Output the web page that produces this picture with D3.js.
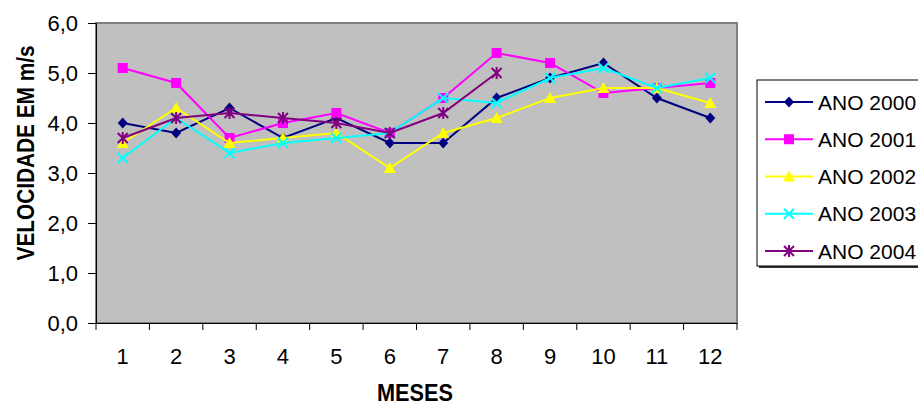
<!DOCTYPE html>
<html><head><meta charset="utf-8">
<script src="https://cdn.jsdelivr.net/npm/d3@7"></script>
<style>body{margin:0;background:#fff}svg{display:block}text{font-family:Arial,"Liberation Sans",sans-serif}</style>
</head><body>
<svg id="c" width="918" height="407"></svg>
<script>
const months = ["1","2","3","4","5","6","7","8","9","10","11","12"];
const yTicks = [0,1,2,3,4,5,6];
const seriesNames = ["ANO 2000","ANO 2001","ANO 2002","ANO 2003","ANO 2004"];
const ano2000 = [4.0,3.8,4.3,3.7,4.1,3.6,3.6,4.5,4.9,5.2,4.5,4.1];
const ano2001 = [5.1,4.8,3.7,4.0,4.2,3.8,4.5,5.4,5.2,4.6,4.7,4.8];
const ano2002 = [3.6,4.3,3.6,3.7,3.8,3.1,3.8,4.1,4.5,4.7,4.7,4.4];
const ano2003 = [3.3,4.1,3.4,3.6,3.7,3.8,4.5,4.4,4.9,5.1,4.7,4.9];
const ano2004 = [3.7,4.1,4.2,4.1,4.0,3.8,4.2,5.0,null,null,null,null];
const colors = ["#000080","#FF00FF","#FFFF00","#00FFFF","#800080"];
const symbols = ["diamond","square","triangle","x","asterisk"];
const data = [ano2000,ano2001,ano2002,ano2003,ano2004];

const svg = d3.select("#c");
const L=96,R=737,T=23,B=323;
const x = d3.scaleBand().domain(months).range([L,R]);
const y = d3.scaleLinear().domain([0,6]).range([B,T]);

svg.append("rect").attr("x",L).attr("y",T).attr("width",R-L).attr("height",B-T)
  .attr("fill","#C0C0C0").attr("stroke","#808080").attr("stroke-width",2);

const FF = "Arial, 'Liberation Sans', sans-serif";
const fmt = d => d3.format(".1f")(d).replace(".",",");
const ya = svg.append("g").attr("transform",`translate(${L},0)`)
  .call(d3.axisLeft(y).tickValues(yTicks).tickFormat(fmt).tickSize(8).tickPadding(10));
ya.select(".domain").attr("stroke","#000").attr("stroke-width",1);
ya.selectAll("text").attr("font-size",22).attr("fill","#000").style("font-family",FF);

const xa = svg.append("g").attr("transform",`translate(0,${B})`)
  .call(d3.axisBottom(x).tickSize(0).tickPadding(25));
xa.select(".domain").attr("stroke","#000");
xa.selectAll("text").attr("font-size",22).attr("fill","#000").style("font-family",FF);
const bounds = months.map(m=>x(m)).concat([R]);
svg.append("g").selectAll("line").data(bounds).join("line")
  .attr("x1",d=>d).attr("x2",d=>d).attr("y1",B).attr("y2",B+7).attr("stroke","#000");

function marker(g, type, cx, cy, color){
  const s=5;
  if(type==="diamond") g.append("path").attr("d",`M${cx},${cy-s-0.5}L${cx+s},${cy}L${cx},${cy+s+0.5}L${cx-s},${cy}Z`).attr("fill",color);
  else if(type==="square") g.append("rect").attr("x",cx-s).attr("y",cy-s).attr("width",2*s).attr("height",2*s).attr("fill",color);
  else if(type==="triangle") g.append("path").attr("d",`M${cx},${cy-s-1}L${cx+s+1},${cy+s}L${cx-s-1},${cy+s}Z`).attr("fill",color);
  else if(type==="x") g.append("path").attr("d",`M${cx-s},${cy-s}L${cx+s},${cy+s}M${cx-s},${cy+s}L${cx+s},${cy-s}`).attr("stroke",color).attr("stroke-width",2);
  else if(type==="asterisk") g.append("path").attr("d",`M${cx-s},${cy-s}L${cx+s},${cy+s}M${cx-s},${cy+s}L${cx+s},${cy-s}M${cx},${cy-s-1}L${cx},${cy+s+1}`).attr("stroke",color).attr("stroke-width",2);
}

const line = d3.line().defined(d=>d.v!==null).x(d=>x(d.m)+x.bandwidth()/2).y(d=>y(d.v));
data.forEach((vals,i)=>{
  const g = svg.append("g");
  const pts = vals.map((v,j)=>({m:months[j],v}));
  g.append("path").attr("d",line(pts)).attr("fill","none").attr("stroke",colors[i]).attr("stroke-width",2);
  pts.filter(p=>p.v!==null).forEach(p=>marker(g,symbols[i],x(p.m)+x.bandwidth()/2,y(p.v),colors[i]));
});

// axis titles
svg.append("text").attr("x",415).attr("y",401).attr("text-anchor","middle")
  .attr("font-size",23).attr("font-weight","bold")
  .attr("textLength",76).attr("lengthAdjust","spacingAndGlyphs").text("MESES");
svg.append("text").attr("transform","translate(34,153) rotate(-90)").attr("text-anchor","middle")
  .attr("font-size",24).attr("font-weight","bold")
  .attr("textLength",215).attr("lengthAdjust","spacingAndGlyphs").text("VELOCIDADE EM m/s");

// legend
const lg = svg.append("g");
lg.append("rect").attr("x",759).attr("y",82).attr("width",200).attr("height",186).attr("fill","#333");
lg.append("rect").attr("x",757).attr("y",80).attr("width",200).attr("height",186).attr("fill","#fff").attr("stroke","#000").attr("stroke-width",1);
const ly = d3.scalePoint().domain(seriesNames).range([102,251]);
seriesNames.forEach((n,i)=>{
  const yy = ly(n);
  lg.append("line").attr("x1",765).attr("x2",813).attr("y1",yy).attr("y2",yy).attr("stroke",colors[i]).attr("stroke-width",2);
  marker(lg,symbols[i],789,yy,colors[i]);
  lg.append("text").attr("x",818).attr("y",yy).attr("dy","0.36em").attr("font-size",21).text(n);
});
</script>
</body></html>
